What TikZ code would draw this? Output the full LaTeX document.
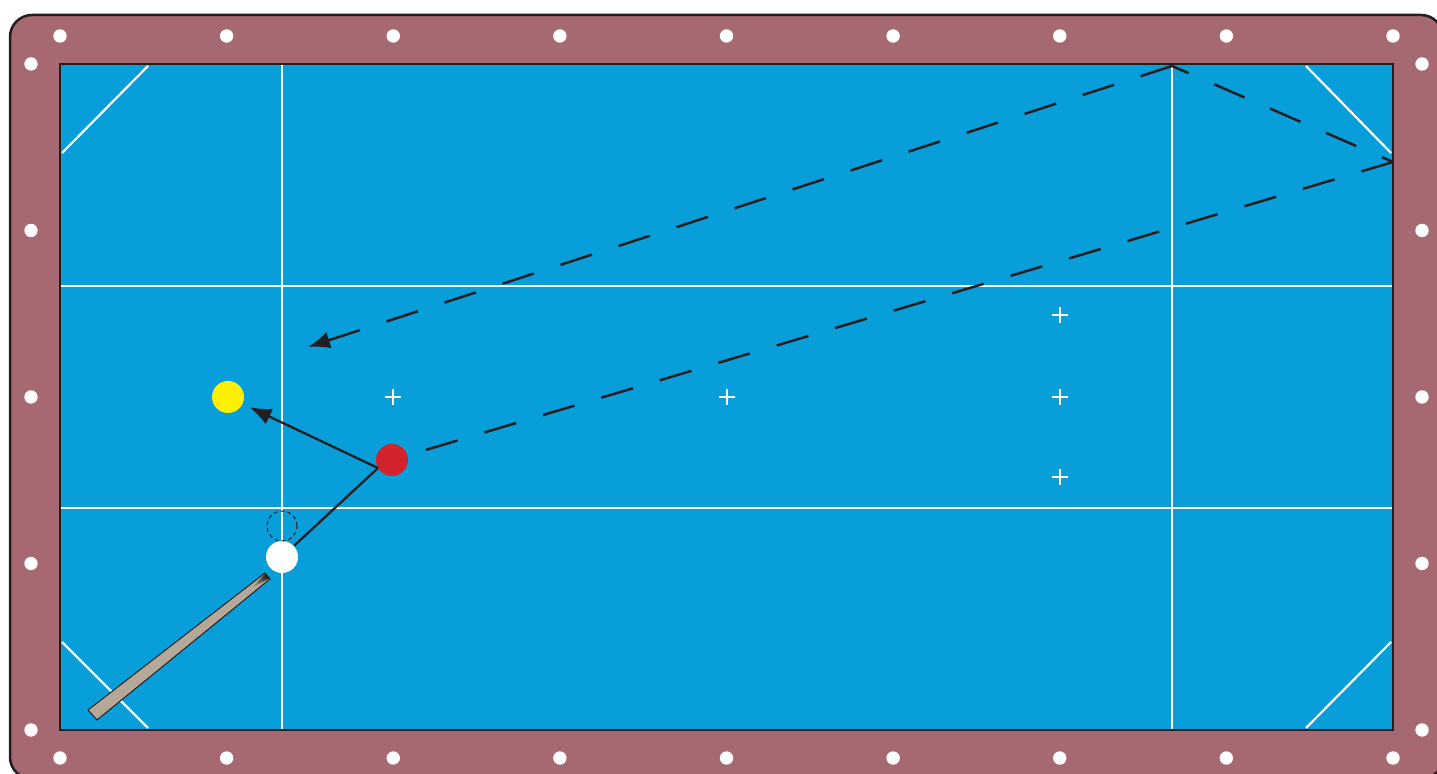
\documentclass[tikz,border=0pt]{standalone}
\usepackage{tikz}
\usetikzlibrary{arrows.meta}
\definecolor{rail}{RGB}{166,104,113}
\definecolor{cloth}{RGB}{8,158,218}
\definecolor{ink}{RGB}{35,31,32}
\definecolor{cuetan}{RGB}{181,168,152}
\definecolor{ballyellow}{RGB}{255,240,0}
\definecolor{ballred}{RGB}{210,35,42}

\begin{document}
\begin{tikzpicture}[x=0.1mm,y=-0.1mm,
  ball/.style={circle,inner sep=0pt,minimum size=3.2mm},
  guide/.style={white,line width=0.22mm},
  shot/.style={ink,line width=0.23mm},
  track/.style={ink,line width=0.25mm,dash pattern=on 3.3mm off 2.8mm},
  tip/.style={-{Latex[length=2.2mm,width=1.7mm]}}]
  \clip (0,0) rectangle (1437,774);
  % rail and cloth
  \draw[ink,line width=0.25mm,fill=rail,rounded corners=2.2mm]
    (10,15) rectangle (1443,779);
  \fill[cloth] (60,64) rectangle (1393,730);
  % diamonds
  \foreach \i in {0,...,8} {
    \fill[white] (60+\i*166.625,36) circle (0.67mm);
    \fill[white] (60+\i*166.625,758) circle (0.67mm);
  }
  \foreach \j in {0,...,4} {
    \fill[white] (31,64+\j*166.5) circle (0.67mm);
    \fill[white] (1422,64+\j*166.5) circle (0.67mm);
  }
  % guide lines
  \draw[guide] (282,64) -- (282,730) (1172,64) -- (1172,730);
  \draw[guide] (60,286) -- (1393,286) (60,508) -- (1393,508);
  \draw[guide] (62,153) -- (148,66) (1306,66) -- (1391,153);
  \draw[guide] (62,642) -- (148,728) (1306,728) -- (1391,642);
  \foreach \x/\y in {393/397,727/397,1060/397,1060/315,1060/477}
    \draw[white,line width=0.15mm] (\x-8,\y) -- (\x+8,\y) (\x,\y-8) -- (\x,\y+8);
  \draw[ink,line width=0.25mm] (60,64) rectangle (1393,730);
  % cue
  \fill[cuetan,draw=ink,line width=0.1mm]
    (88,710) -- (97,720) -- (270,579) -- (265,573) -- cycle;
  \shade[top color=cuetan,bottom color=ink,shading angle=128]
    (250,590) -- (255,586) -- (269,578.5) -- (265.5,573.5) -- cycle;
  % balls
  \node[ball,fill=ballyellow] (yellow) at (228,397) {};
  \node[ball,fill=ballred] (red) at (392,460) {};
  \node[ball,fill=white] (white) at (282,557) {};
  \node[ball,minimum size=3mm,draw=ink,line width=0.1mm,
    dash pattern=on 0.4mm off 0.3mm] (ghost) at (282,526) {};
  \coordinate (hit) at (378,468);
  \coordinate (right bounce) at (1393,162);
  \coordinate (top bounce) at (1172,66);
  \coordinate (stop) at (308,347);
  % cue ball and object ball paths
  \draw[shot] (white) -- (hit);
  \draw[shot,tip,shorten >=0.7mm] (hit) -- (yellow);
  \draw[track] (right bounce) -- (red);
  \draw[track,dash phase=1.5mm] (top bounce) -- (right bounce);
  \draw[track,tip] (top bounce) -- (stop);
\end{tikzpicture}
\end{document}
